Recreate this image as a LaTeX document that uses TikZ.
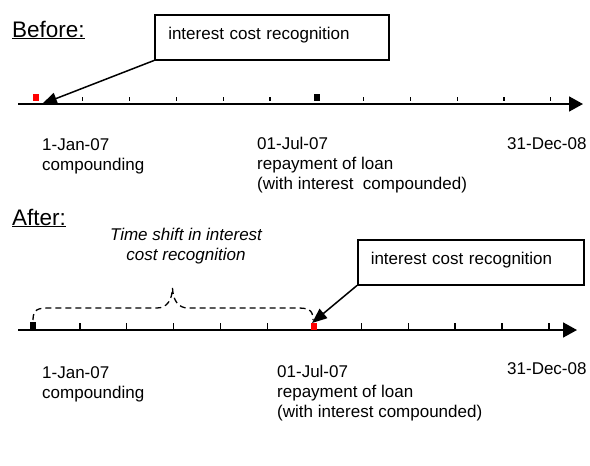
\documentclass[tikz,border=0pt]{standalone}
\usepackage{fontspec}
\setmainfont{Liberation Sans}
\usetikzlibrary{arrows.meta}

\begin{document}
\begin{tikzpicture}[x=1pt, y=-1pt,
  every node/.style={font=\fontsize{17}{20}\selectfont, inner sep=0pt},
  heading/.style={font=\fontsize{22.5}{26}\selectfont, anchor=base west},
  datelabel/.style={anchor=base west, align=left},
  axis/.style={line width=1.8pt, -{Triangle[length=14pt,width=15pt]}},
  tick/.style={line width=1.3pt},
  marker/.style={minimum width=6pt, minimum height=7pt},
  recog/.style={draw, line width=1.5pt, anchor=north west, minimum height=45pt,
    align=left, text height=12pt, text depth=8pt, inner xsep=13.5pt},
  pointer/.style={line width=1.5pt, -{Triangle[length=15pt,width=12pt]}},
  brace/.style={line width=1.3pt, dash pattern=on 6pt off 4pt}]
\useasboundingbox (0,0) rectangle (590,466);
% Before timeline
\begin{scope}
\node[heading] (before) at (12,37) {\underline{Before:}};
\coordinate (axB0) at (18,104); \coordinate (axB1) at (583,104);
\draw[axis] (axB0) -- (axB1);
\foreach \i in {1,...,5,7,8,9,10,11}
  \draw[tick] (36+46.8*\i,97) -- (36+46.8*\i,101);
\node[marker, fill=red] (startB) at (36,97) {};
\node[marker, fill=black] (repayB) at (317,97.5) {};
\node[recog, minimum width=234pt, text width=207pt] (recogB) at (154,14) {interest cost recognition};
\coordinate (tipB) at (42,104);
\draw[pointer] (recogB.south west) -- (tipB);
% base anchor sits on the last line
\node[datelabel] (janB) at (42,170) {1-Jan-07\\compounding};
\node[datelabel] (julB) at (257,189) {01-Jul-07\\repayment of loan\\(with interest\ \ compounded)};
\node[datelabel] (decB) at (507,149) {31-Dec-08};
\end{scope}
% After timeline
\begin{scope}
\node[heading] (after) at (12,225) {\underline{After:}};
\coordinate (axA0) at (18,330); \coordinate (axA1) at (577,330);
\draw[axis] (axA0) -- (axA1);
\foreach \i in {1,...,5,7,8,9,10,11}
  \draw[tick] (33+46.9*\i,323) -- (33+46.9*\i,330);
\node[marker, fill=black] (startA) at (33,325.5) {};
\node[marker, fill=red] (repayA) at (314,326) {};
\draw[brace] (33,320) .. controls (33,309) and (38,308) .. (50,308) -- (157,308)
  .. controls (167,308) and (172,300) .. (172.5,288)
  .. controls (173,300) and (178,308) .. (188,308) -- (296,308)
  .. controls (308,308) and (313,309) .. (313,320);
\node[font=\fontsize{17}{20}\selectfont\itshape, align=center, anchor=base] (shift) at (186,260) {Time shift in interest\\cost recognition};
\node[recog, minimum width=226pt, text width=200pt, inner xsep=13pt] (recogA) at (357,239) {interest cost recognition};
\coordinate (tipA) at (312,323);
\draw[pointer] (recogA.south west) -- (tipA);
\node[datelabel] (janA) at (42,398) {1-Jan-07\\compounding};
\node[datelabel] (julA) at (277,417) {01-Jul-07\\repayment of loan\\(with interest compounded)};
\node[datelabel] (decA) at (507,374) {31-Dec-08};
\end{scope}
\end{tikzpicture}
\end{document}
